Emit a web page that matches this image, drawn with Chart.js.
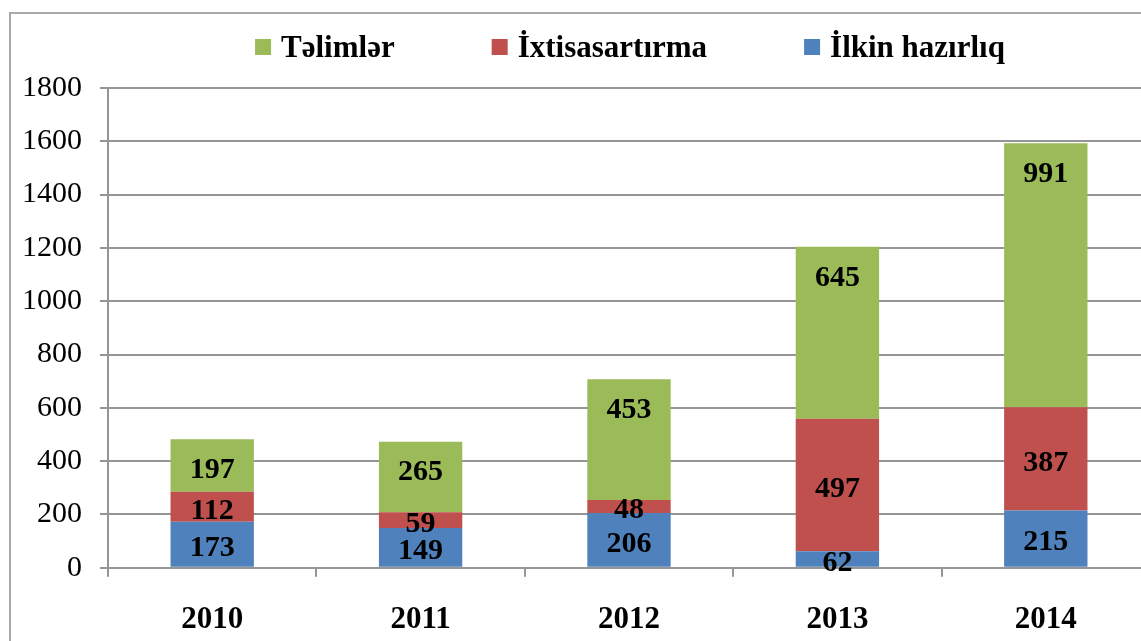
<!DOCTYPE html>
<html>
<head>
<meta charset="utf-8">
<script src="https://cdn.jsdelivr.net/npm/chart.js@4"></script>
<style>
    html, body { margin: 0; padding: 0; background: #fff; overflow: hidden; width: 1141px; height: 641px; }
    #frame { position: absolute; left: 9px; top: 12px; width: 1200px; height: 700px; border-left: 2px solid #a9a9a9; border-top: 2px solid #a9a9a9; }
    #chart { position: absolute; left: 0; top: 0; }
</style>
</head>
<body>
<div id="frame"></div>
<canvas id="chart" width="1160" height="669"></canvas>
<script>
// Chart data
const years = ['2010', '2011', '2012', '2013', '2014'];
const ilkinHazirliq = [173, 149, 206, 62, 215];
const ixtisasartirma = [112, 59, 48, 497, 387];
const telimler = [197, 265, 453, 645, 991];
const yTicks = [0, 200, 400, 600, 800, 1000, 1200, 1400, 1600, 1800];

const FONT = '"Liberation Serif", "Times New Roman", serif';
const GRID = '#959595';

// Values drawn inside each bar segment
const segmentLabels = {
    id: 'segmentLabels',
    afterDatasetsDraw(chart) {
        const ctx = chart.ctx;
        ctx.save();
        ctx.font = 'bold 30px ' + FONT;
        ctx.fillStyle = '#000';
        ctx.textAlign = 'center';
        ctx.textBaseline = 'middle';
        chart.data.datasets.forEach((ds, i) => {
            const meta = chart.getDatasetMeta(i);
            meta.data.forEach((el, j) => {
                let y;
                if (ds.labelAnchor === 'end') {
                    y = el.y + 31;
                } else {
                    y = (el.y + el.base) / 2 + 4;
                }
                ctx.fillText(String(ds.data[j]), el.x, y);
            });
        });
        ctx.restore();
    }
};

// Legend drawn across the top, in reverse dataset order
const topLegend = {
    id: 'topLegend',
    afterDraw(chart) {
        const ctx = chart.ctx;
        const items = chart.data.datasets.slice().reverse();
        const box = 16, gapText = 10, gapItem = 97;
        ctx.save();
        ctx.font = 'bold 31px ' + FONT;
        const widths = items.map(ds => box + gapText + ctx.measureText(ds.label).width);
        const total = widths.reduce((a, b) => a + b, 0) + gapItem * (items.length - 1);
        let x = 630 - total / 2;
        const cy = 47;
        ctx.textBaseline = 'alphabetic';
        ctx.textAlign = 'left';
        items.forEach((ds, i) => {
            ctx.fillStyle = ds.backgroundColor;
            ctx.fillRect(x, cy - box / 2, box, box);
            ctx.fillStyle = '#000';
            ctx.fillText(ds.label, x + box + gapText, 57);
            x += widths[i] + gapItem;
        });
        ctx.restore();
    }
};

new Chart(document.getElementById('chart'), {
    type: 'bar',
    data: {
        labels: years,
        datasets: [
            { label: 'İlkin hazırlıq', data: ilkinHazirliq, backgroundColor: '#4f81bd' },
            { label: 'İxtisasartırma', data: ixtisasartirma, backgroundColor: '#c0504d' },
            { label: 'Təlimlər', data: telimler, backgroundColor: '#9bbb59', labelAnchor: 'end' }
        ]
    },
    options: {
        responsive: false,
        animation: false,
        barPercentage: 0.4,
        categoryPercentage: 1.0,
        layout: { padding: { top: 88, left: 4, right: 10, bottom: 5 } },
        plugins: {
            legend: { display: false },
            tooltip: { enabled: false }
        },
        scales: {
            x: {
                stacked: true,
                grid: { drawOnChartArea: false, drawTicks: true, tickLength: 9, color: GRID, lineWidth: 2, offset: true },
                border: { color: GRID, width: 2 },
                ticks: { color: '#000', font: { family: FONT, size: 31, weight: 'bold' }, padding: 25 }
            },
            y: {
                stacked: true,
                min: 0,
                max: 1800,
                afterBuildTicks(scale) {
                    scale.ticks = yTicks.map(v => ({ value: v }));
                },
                grid: { color: GRID, lineWidth: 2, tickLength: 8 },
                border: { color: GRID, width: 2 },
                ticks: {
                    color: '#000',
                    font: { family: FONT, size: 30 },
                    padding: 18,
                    callback: v => String(v)
                }
            }
        }
    },
    plugins: [segmentLabels, topLegend]
});
</script>
</body>
</html>
